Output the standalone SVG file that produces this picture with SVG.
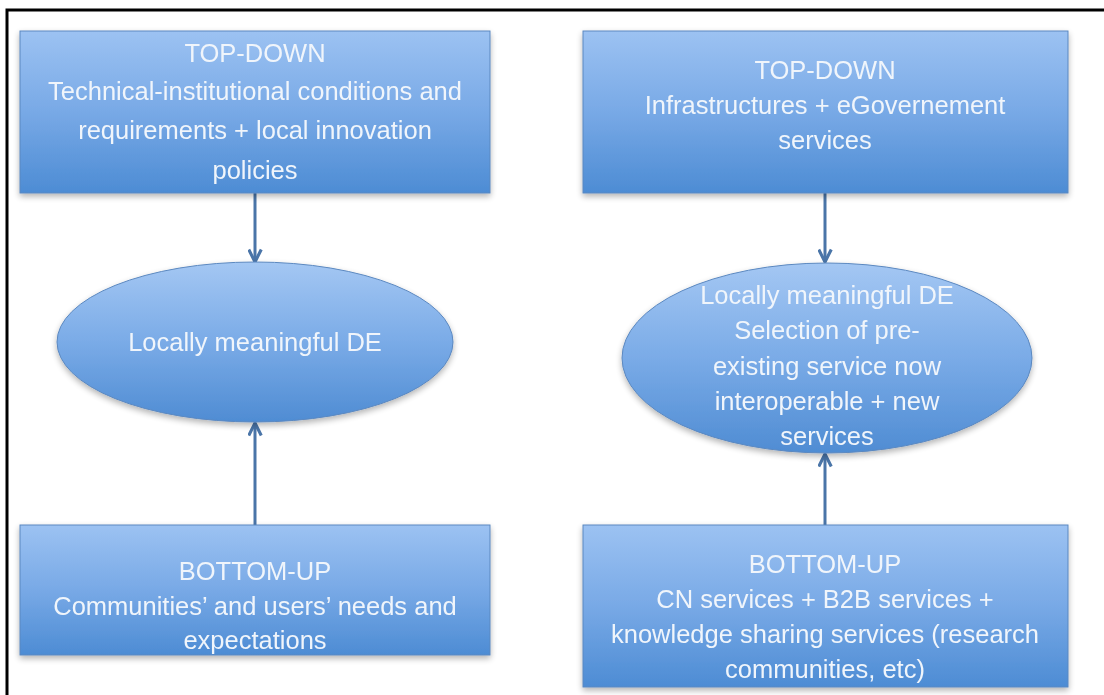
<svg xmlns="http://www.w3.org/2000/svg" width="1104" height="695" viewBox="0 0 1104 695">
  <style>
    .box { fill: url(#gBox); stroke: #5b88c0; stroke-width: 1; }
    .ell { fill: url(#gEll); stroke: #5b88c0; stroke-width: 1; }
    .lbl { font-family: "Liberation Sans", Arial, sans-serif; font-size: 25.5px; fill: #f0f5fb; text-anchor: middle; }
    .conn { stroke: #4a75a8; stroke-width: 3; fill: none; marker-end: url(#arrow); }
    .frame { stroke: #000; stroke-width: 3; fill: none; }
  </style>
  <defs>
    <linearGradient id="gBox" x1="0" y1="0" x2="0" y2="1">
      <stop offset="0" stop-color="#9cc2f2"/>
      <stop offset="0.5" stop-color="#78a9e6"/>
      <stop offset="1" stop-color="#4d8cd4"/>
    </linearGradient>
    <linearGradient id="gEll" x1="0" y1="0" x2="0" y2="1">
      <stop offset="0" stop-color="#a4c7f3"/>
      <stop offset="0.5" stop-color="#7aabe7"/>
      <stop offset="1" stop-color="#4f8cd3"/>
    </linearGradient>
    <filter id="sh" x="-5%" y="-5%" width="110%" height="120%">
      <feGaussianBlur in="SourceAlpha" stdDeviation="3"/>
      <feOffset dy="3" result="b"/>
      <feComponentTransfer><feFuncA type="linear" slope="0.3"/></feComponentTransfer>
      <feMerge><feMergeNode/><feMergeNode in="SourceGraphic"/></feMerge>
    </filter>
    <marker id="arrow" viewBox="0 0 12 12" refX="11" refY="6" markerWidth="5" markerHeight="5" orient="auto" markerUnits="strokeWidth">
      <path d="M1,1 L11,6 L1,11" fill="none" stroke="#4a75a8" stroke-width="2.5"/>
    </marker>
  </defs>
  <rect width="1104" height="695" fill="#fff"/>
  <path class="frame" d="M7,695 L7,10 L1104,10"/>

  <g id="connectors">
    <line class="conn" x1="255" y1="193" x2="255" y2="262"/>
    <line class="conn" x1="255" y1="525" x2="255" y2="423"/>
    <line class="conn" x1="825" y1="193" x2="825" y2="262"/>
    <line class="conn" x1="825" y1="525" x2="825" y2="454"/>
  </g>

  <g id="topLeft" filter="url(#sh)">
    <rect class="box" x="20" y="31" width="470" height="162"/>
    <text class="lbl" x="255" y="62">TOP-DOWN</text>
    <text class="lbl" x="255" y="100">Technical-institutional conditions and</text>
    <text class="lbl" x="255" y="139">requirements + local innovation</text>
    <text class="lbl" x="255" y="179">policies</text>
  </g>

  <g id="topRight" filter="url(#sh)">
    <rect class="box" x="583" y="31" width="485" height="162"/>
    <text class="lbl" x="825" y="79">TOP-DOWN</text>
    <text class="lbl" x="825" y="114">Infrastructures + eGovernement</text>
    <text class="lbl" x="825" y="149">services</text>
  </g>

  <g id="ellLeft" filter="url(#sh)">
    <ellipse class="ell" cx="255" cy="342" rx="198" ry="80"/>
    <text class="lbl" x="255" y="351">Locally meaningful DE</text>
  </g>

  <g id="ellRight" filter="url(#sh)">
    <ellipse class="ell" cx="827" cy="358" rx="205" ry="95"/>
    <text class="lbl" x="827" y="304">Locally meaningful DE</text>
    <text class="lbl" x="827" y="339">Selection of pre-</text>
    <text class="lbl" x="827" y="375">existing service now</text>
    <text class="lbl" x="827" y="410">interoperable + new</text>
    <text class="lbl" x="827" y="445">services</text>
  </g>

  <g id="bottomLeft" filter="url(#sh)">
    <rect class="box" x="20" y="525" width="470" height="130"/>
    <text class="lbl" x="255" y="580">BOTTOM-UP</text>
    <text class="lbl" x="255" y="615">Communities’ and users’ needs and</text>
    <text class="lbl" x="255" y="649">expectations</text>
  </g>

  <g id="bottomRight" filter="url(#sh)">
    <rect class="box" x="583" y="525" width="485" height="162"/>
    <text class="lbl" x="825" y="573">BOTTOM-UP</text>
    <text class="lbl" x="825" y="608">CN services + B2B services +</text>
    <text class="lbl" x="825" y="643">knowledge sharing services (research</text>
    <text class="lbl" x="825" y="678">communities, etc)</text>
  </g>
</svg>
